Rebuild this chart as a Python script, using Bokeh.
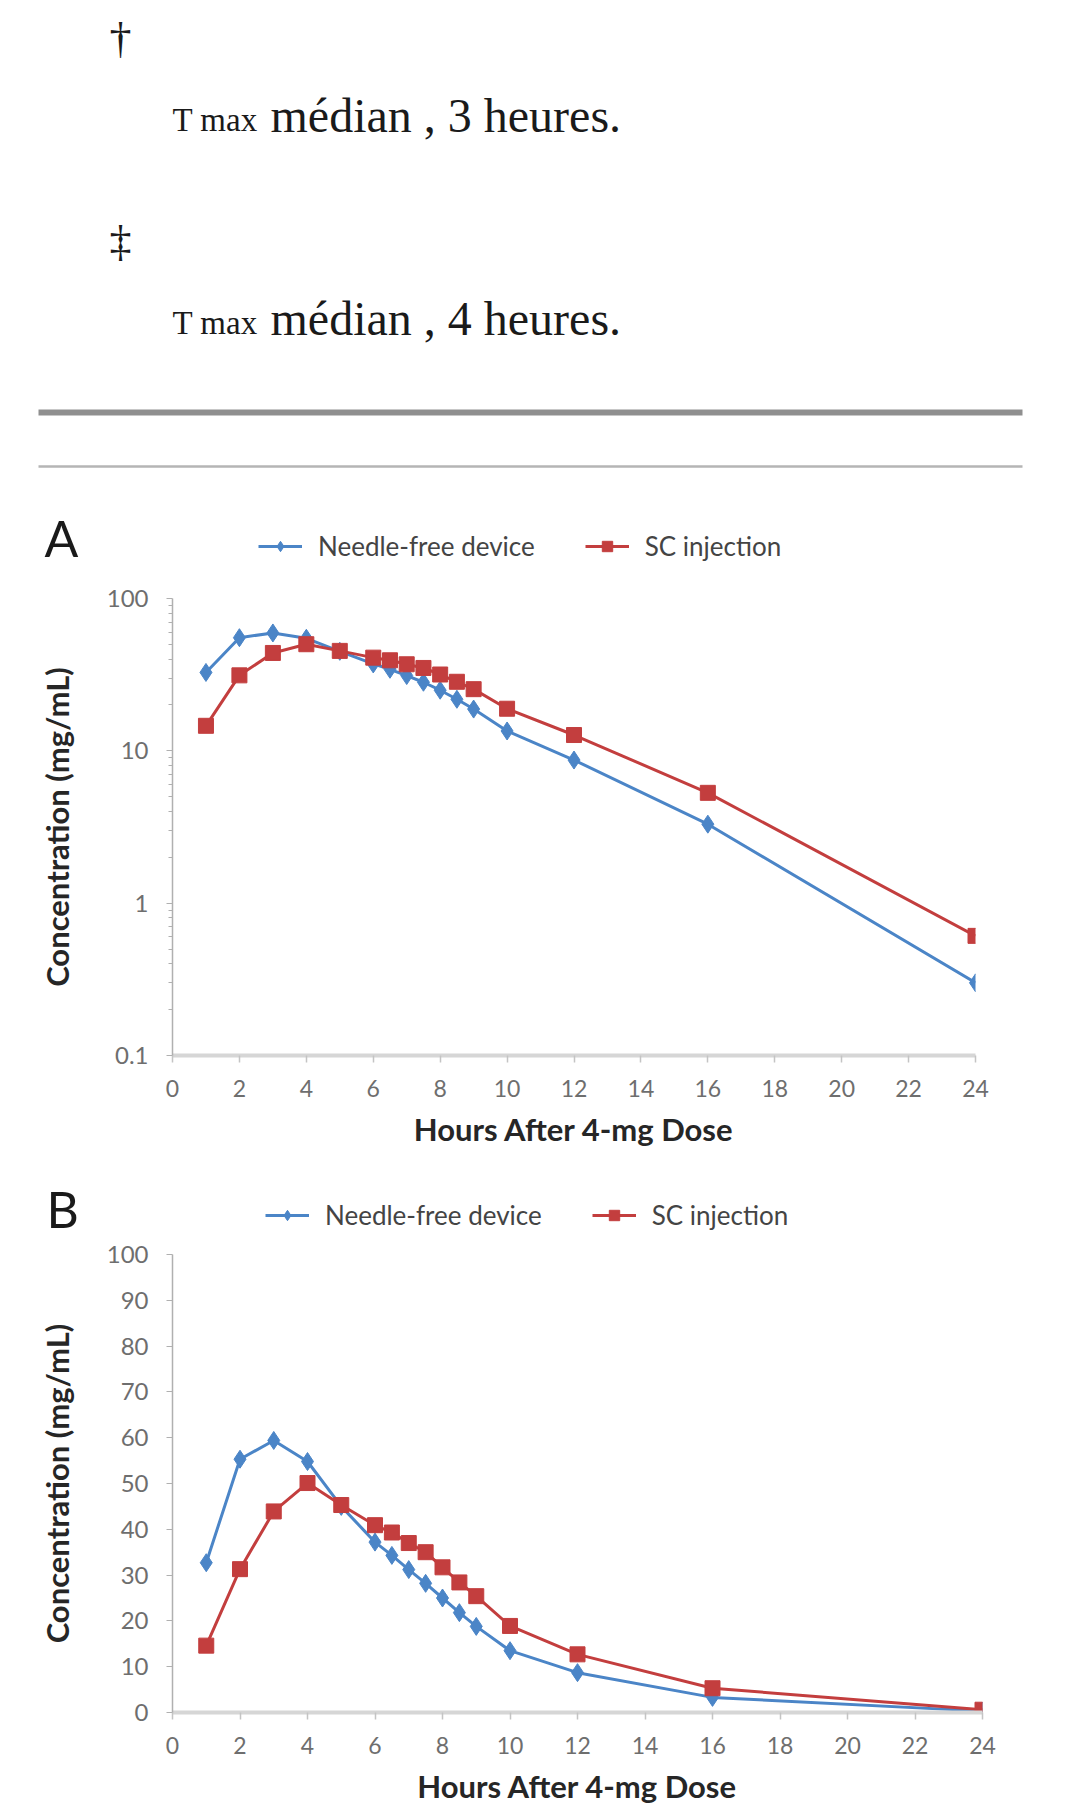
from bokeh.plotting import figure
from bokeh.layouts import column
from bokeh.models import (Range1d, FixedTicker, NumeralTickFormatter, Legend, LegendItem)
from bokeh.core.properties import value
from bokeh.embed import file_html
from bokeh.resources import INLINE

# ---------------- data ----------------
hours = [1, 2, 3, 4, 5, 6, 6.5, 7, 7.5, 8, 8.5, 9, 10, 12, 16, 24]
needle_free = [32.7, 55.3, 59.4, 54.8, 45.0, 37.2, 34.3, 31.2, 28.2, 25.0, 21.8, 18.8, 13.5, 8.7, 3.3, 0.30]
sc_injection = [14.6, 31.3, 43.9, 50.1, 45.3, 40.9, 39.3, 37.0, 35.0, 31.7, 28.4, 25.4, 18.9, 12.7, 5.3, 0.61]
series_names = ["Needle-free device", "SC injection"]
panel_letters = ["A", "B"]
x_ticks = [0, 2, 4, 6, 8, 10, 12, 14, 16, 18, 20, 22, 24]
log_ticks = [0.1, 1, 10, 100]
lin_ticks = [0, 10, 20, 30, 40, 50, 60, 70, 80, 90, 100]
notes = [("\u2020", "T max", "m\u00e9dian , 3 heures."), ("\u2021", "T max", "m\u00e9dian , 4 heures.")]
x_title = "Hours After 4-mg Dose"
y_title = "Concentration (mg/mL)"

BLUE = "#4b85c7"
RED = "#c33e3e"
SERIF = "Liberation Serif"
SANS = "Lato"

# ---------------- header ----------------
h = figure(width=1080, height=480, x_range=Range1d(0, 1080), y_range=Range1d(480, 0),
           output_backend="svg", toolbar_location=None, frame_align=False,
           x_axis_location=None, y_axis_location=None, min_border=0)
h.grid.visible = False
h.outline_line_color = None
for i, (mark, sub, txt) in enumerate(notes):
    dy = i * 203
    h.text(x=[120], y=[38 + dy], text=[mark], text_font=value(SERIF), text_font_size="44px",
           text_align="center", text_baseline="alphabetic", text_color="#1a1a1a")
    h.text(x=[172], y=[119 + dy], text=[sub], text_font=value(SERIF), text_font_size="33px",
           text_align="left", text_baseline="alphabetic", text_color="#1a1a1a")
    h.text(x=[270], y=[115 + dy], text=[txt], text_font=value(SERIF), text_font_size="48px",
           text_align="left", text_baseline="alphabetic", text_color="#1a1a1a")
h.segment(x0=[38], y0=[412], x1=[1022], y1=[412], line_width=6, line_color="#8f8f8f")
h.segment(x0=[38], y0=[466], x1=[1022], y1=[466], line_width=2.5, line_color="#b5b5b5")


def make_strip(letter, height, letter_x, letter_base, legend_x, legend_y):
    s = figure(width=1080, height=height, x_range=Range1d(0, 1080), y_range=Range1d(height, 0),
               output_backend="svg", toolbar_location=None, frame_align=False,
               x_axis_location=None, y_axis_location=None, min_border=0)
    s.grid.visible = False
    s.outline_line_color = None
    s.text(x=[letter_x], y=[letter_base], text=[letter], text_font=value(SANS), text_font_size="50px",
           text_align="left", text_baseline="alphabetic", text_color="#1a1a1a")
    # legend keys: the series drawn on an off-screen range, so only the legend shows them
    s.extra_x_ranges = {"off": Range1d(1000, 2000)}
    l1 = s.line(hours, needle_free, line_color=BLUE, line_width=3, x_range_name="off")
    m1 = s.scatter(hours, needle_free, marker="diamond", size=20, color=BLUE, x_range_name="off")
    l2 = s.line(hours, sc_injection, line_color=RED, line_width=3, x_range_name="off")
    m2 = s.scatter(hours, sc_injection, marker="square", size=16, color=RED, x_range_name="off")
    legend = Legend(items=[LegendItem(label=series_names[0], renderers=[l1, m1]),
                           LegendItem(label=series_names[1], renderers=[l2, m2])],
                    orientation="horizontal", location=(legend_x, legend_y),
                    border_line_color=None, background_fill_alpha=0,
                    padding=0, margin=0, spacing=50, glyph_width=44, glyph_height=26,
                    label_standoff=16, label_text_font=SANS, label_text_font_size="26px",
                    label_text_color="#444444")
    s.add_layout(legend, "center")
    return s


def make_chart(log, height, border_bottom, border_right):
    kw = dict(y_axis_type="log", y_range=Range1d(0.1, 100)) if log else dict(y_range=Range1d(0, 100))
    p = figure(width=1080, height=height, x_range=Range1d(0, 24), output_backend="svg",
               toolbar_location=None, frame_align=False, min_border_left=172,
               min_border_right=border_right, min_border_top=15,
               min_border_bottom=border_bottom, **kw)
    p.grid.visible = False
    p.outline_line_color = None

    p.line(hours, needle_free, line_color=BLUE, line_width=3)
    p.scatter(hours, needle_free, marker="diamond", size=18, color=BLUE)
    p.line(hours, sc_injection, line_color=RED, line_width=3)
    p.scatter(hours, sc_injection, marker="square", size=15, color=RED)

    xa = p.xaxis[0]
    xa.ticker = FixedTicker(ticks=x_ticks)
    xa.axis_line_color = "#d6d6d6"
    xa.axis_line_width = 4
    xa.major_tick_line_color = "#c4c4c4"
    xa.major_tick_line_width = 1.5
    xa.major_tick_out = 7
    xa.major_tick_in = 0
    xa.minor_tick_line_color = None
    xa.major_label_text_font = SANS
    xa.major_label_text_font_size = "23px"
    xa.major_label_text_color = "#6e6e6e"
    xa.major_label_standoff = 17
    xa.axis_label = x_title
    xa.axis_label_text_font = SANS
    xa.axis_label_text_font_style = "bold"
    xa.axis_label_text_font_size = "31px"
    xa.axis_label_text_color = "#262626"
    xa.axis_label_standoff = 10

    ya = p.yaxis[0]
    if log:
        minors = [k * 10.0 ** e for e in (-1, 0, 1) for k in range(2, 10)]
        ya.ticker = FixedTicker(ticks=log_ticks, minor_ticks=minors)
        ya.minor_tick_line_color = "#b0b0b0"
        ya.minor_tick_out = 4
        ya.minor_tick_in = 0
    else:
        ya.ticker = FixedTicker(ticks=lin_ticks)
        ya.minor_tick_line_color = None
    ya.formatter = NumeralTickFormatter(format="0.[0]")
    ya.axis_line_color = "#b0b0b0"
    ya.axis_line_width = 1.5
    ya.major_tick_line_color = "#b0b0b0"
    ya.major_tick_out = 6
    ya.major_tick_in = 0
    ya.major_label_text_font = SANS
    ya.major_label_text_font_size = "24px"
    ya.major_label_text_color = "#6e6e6e"
    ya.major_label_standoff = 18
    ya.axis_label = y_title
    ya.axis_label_text_font = SANS
    ya.axis_label_text_font_style = "bold"
    ya.axis_label_text_font_size = "31px"
    ya.axis_label_text_color = "#262626"
    ya.axis_label_standoff = 28
    return p


sa = make_strip(panel_letters[0], 103, 44, 57, 258, 21)
pa = make_chart(True, 567, 94, 105)
sb = make_strip(panel_letters[1], 89, 46, 58, 265, 8)
pb = make_chart(False, 581, 108, 98)

layout = column(h, sa, pa, sb, pb, spacing=0)
open("out.html", "w").write(file_html(layout, INLINE))
